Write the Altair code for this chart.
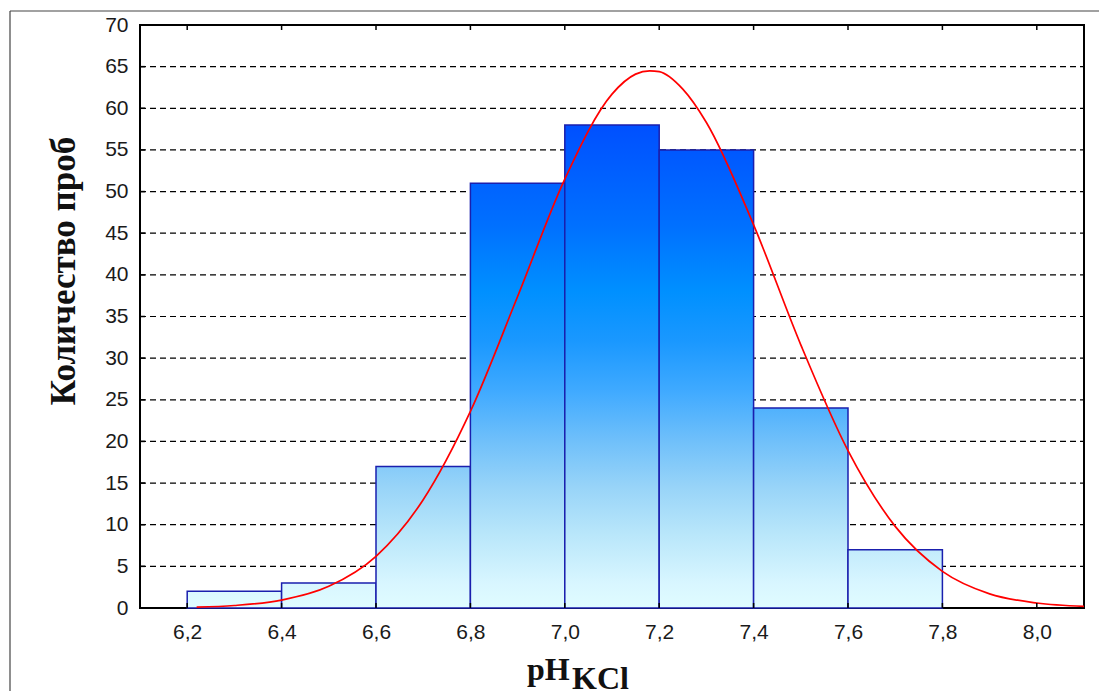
import altair as alt
import pandas as pd

# ---- data ----
bin_start = [6.2, 6.4, 6.6, 6.8, 7.0, 7.2, 7.4, 7.6]
bin_end = [6.4, 6.6, 6.8, 7.0, 7.2, 7.4, 7.6, 7.8]
counts = [2, 3, 17, 51, 58, 55, 24, 7]

curve_x = [6.22, 6.3, 6.4, 6.5, 6.6, 6.7, 6.8, 6.9, 7.0, 7.1, 7.15, 7.18, 7.2, 7.25,
           7.3, 7.4, 7.5, 7.6, 7.7, 7.8, 7.9, 8.0, 8.1]
curve_y = [0.1, 0.3, 0.95, 2.6, 6.2, 13.0, 23.6, 37.4, 51.5, 61.7, 64.1, 64.5, 64.4, 62.3,
           58.3, 46.0, 31.6, 18.9, 9.8, 4.4, 1.7, 0.6, 0.2]

x_ticks = [6.2, 6.4, 6.6, 6.8, 7.0, 7.2, 7.4, 7.6, 7.8, 8.0]
y_ticks = [0, 5, 10, 15, 20, 25, 30, 35, 40, 45, 50, 55, 60, 65, 70]
grid_vals = [5, 10, 15, 20, 25, 30, 35, 40, 45, 50, 55, 60, 65]

# ---- styling ----
W, H = 944, 583
xscale = alt.Scale(domain=[6.1, 8.1], nice=False, zero=False)
yscale = alt.Scale(domain=[0, 70], nice=False, zero=True)
LABEL_FONT = "Liberation Sans"
TITLE_FONT = "Liberation Serif"

# absolute colour ramp (value -> colour) of the bar fill
ramp = [(0, "#e0fcff"), (3, "#d8f6ff"), (9, "#b8e6fa"), (14.5, "#98d4f8"),
        (20, "#70c0fa"), (26, "#40aaff"), (32, "#1a98ff"), (38, "#0090ff"),
        (46, "#0070ff"), (58, "#0050ff"), (70, "#0044ff")]


def hex2rgb(h):
    h = h.lstrip("#")
    return [int(h[i:i + 2], 16) for i in (0, 2, 4)]


def color_at(v):
    for (a0, c0), (a1, c1) in zip(ramp[:-1], ramp[1:]):
        if a0 <= v <= a1:
            t = (v - a0) / (a1 - a0)
            r0, r1 = hex2rgb(c0), hex2rgb(c1)
            return "#" + "".join(f"{round(p + (q - p) * t):02x}" for p, q in zip(r0, r1))
    return ramp[-1][1]


def gradient(v):
    stops = [{"offset": 0, "color": color_at(v)}]
    for a, c in reversed(ramp):
        if 0 < a < v:
            stops.append({"offset": 1 - a / v, "color": c})
    stops.append({"offset": 1, "color": ramp[0][1]})
    return {"gradient": "linear", "x1": 0, "y1": 0, "x2": 0, "y2": 1, "stops": stops}


bars_df = pd.DataFrame({"start": bin_start, "end": bin_end, "count": counts})
curve_df = pd.DataFrame({"x": curve_x, "y": curve_y})
xt_df = pd.DataFrame({"t": x_ticks})
yt_df = pd.DataFrame({"t": y_ticks})
grid_df = pd.DataFrame({"v": grid_vals})
one = pd.DataFrame({"a": [0]})


def x_axis():
    return alt.Axis(values=x_ticks, title=None, tickSize=0, domain=False, grid=False,
                    labelExpr="replace(format(datum.value, '.1f'), '.', ',')",
                    labelFont=LABEL_FONT, labelFontSize=21, labelColor="#1a1a1a",
                    labelPadding=13, labelFlush=False, labelOverlap=False)


def y_axis():
    return alt.Axis(values=y_ticks, title=None, tickSize=0, domain=False, grid=False,
                    labelFont=LABEL_FONT, labelFontSize=21, labelColor="#1a1a1a",
                    labelPadding=12, labelOverlap=False)


def X(field):
    return alt.X(field, type="quantitative", scale=xscale, axis=x_axis())


def Y(field):
    return alt.Y(field, type="quantitative", scale=yscale, axis=y_axis())


grid = alt.Chart(grid_df).mark_rule(color="black", strokeDash=[6, 4], strokeWidth=1.2).encode(
    y=Y("v"), x=alt.value(0), x2=alt.value(W))

bar_layers = []
for s, v in zip(bin_start, counts):
    bar_layers.append(
        alt.Chart(bars_df).transform_filter(alt.datum.start == s)
        .mark_rect(fill=gradient(v), stroke="#1a1fae", strokeWidth=1.5)
        .encode(x=X("start"), x2="end", y=Y("count"), y2=alt.datum(0))
    )

curve = alt.Chart(curve_df).mark_line(color="#ff0000", strokeWidth=1.7, interpolate="monotone").encode(
    x=X("x"), y=Y("y"))

top_ticks = alt.Chart(xt_df).mark_rule(color="black", strokeWidth=1.5).encode(
    x=X("t"), y=alt.value(0), y2=alt.value(5))
bot_ticks = alt.Chart(xt_df).mark_rule(color="black", strokeWidth=1.5).encode(
    x=X("t"), y=alt.value(H), y2=alt.value(H - 5))
left_ticks = alt.Chart(yt_df).mark_rule(color="black", strokeWidth=1.5).encode(
    y=Y("t"), x=alt.value(0), x2=alt.value(5))

frame_top = alt.Chart(one).mark_rule(color="#444", strokeWidth=1.2).encode(
    x=alt.value(-130), x2=alt.value(959), y=alt.value(-14))
frame_left = alt.Chart(one).mark_rule(color="#444", strokeWidth=1.2).encode(
    x=alt.value(-130), y=alt.value(-14), y2=alt.value(666))

y_title = alt.Chart(one).mark_text(text="Количество проб", angle=270, font=TITLE_FONT,
                                   fontWeight="bold", fontSize=35, color="#111",
                                   align="center", baseline="middle").encode(
    x=alt.value(-76), y=alt.value(246))
x_title1 = alt.Chart(one).mark_text(text="pH", font=TITLE_FONT, fontWeight="bold", fontSize=32,
                                    color="#111", align="left", baseline="alphabetic").encode(
    x=alt.value(387), y=alt.value(655))
x_title2 = alt.Chart(one).mark_text(text="KCl", font=TITLE_FONT, fontWeight="bold", fontSize=32,
                                    color="#111", align="left", baseline="alphabetic").encode(
    x=alt.value(432), y=alt.value(664))

chart = alt.layer(
    grid, *bar_layers, curve, top_ticks, bot_ticks, left_ticks,
    frame_top, frame_left, y_title, x_title1, x_title2
).properties(
    width=W, height=H,
    autosize=alt.AutoSizeParams(type="none"),
    padding={"left": 140, "top": 25, "right": 15, "bottom": 83},
    background="white",
).configure_view(stroke="black", strokeWidth=2)

chart.save("out.html", embed_options={"renderer": "svg", "actions": False})
